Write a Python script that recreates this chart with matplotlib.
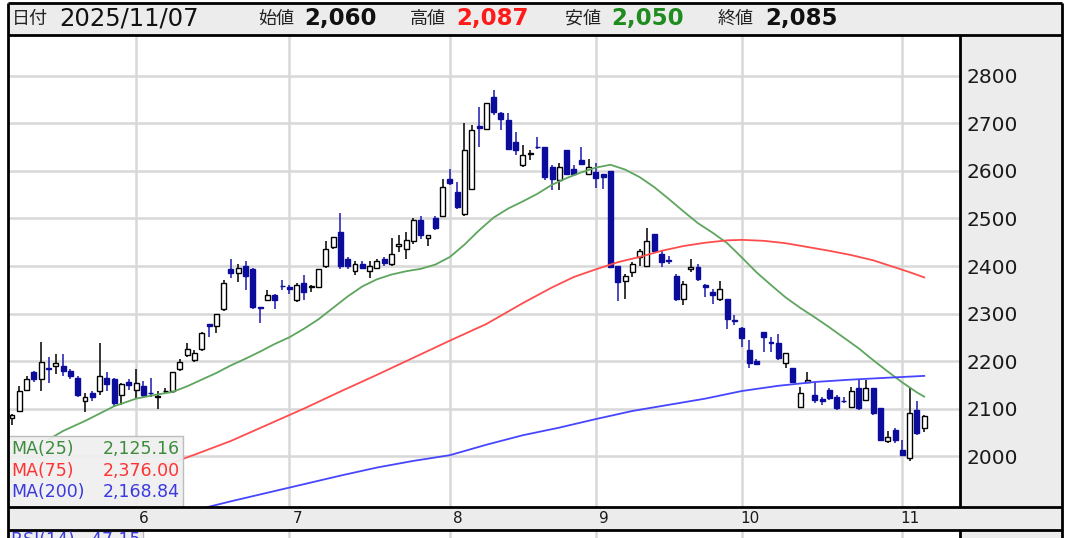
import numpy as np
import pandas as pd
import matplotlib
matplotlib.use("Agg")
import matplotlib.pyplot as plt
from matplotlib.patches import Rectangle
from matplotlib.transforms import ScaledTranslation

W, H, DPI = 1065, 538, 100

# trading days shown (TSE holidays removed)
holidays = ["2025-07-21", "2025-08-11", "2025-09-15", "2025-09-23", "2025-10-13", "2025-11-03"]
days = pd.bdate_range("2025-05-08", "2025-11-07")
days = days[~days.isin(pd.to_datetime(holidays))]

# daily OHLC
opens = [2080, 2096, 2140, 2178, 2162, 2185, 2190, 2190, 2180, 2165,
         2115, 2133, 2136, 2165, 2162, 2129, 2155, 2140, 2147, 2133,
         2125, 2136, 2136, 2183, 2212, 2203, 2226, 2278, 2273, 2309,
         2393, 2386, 2400, 2393, 2313, 2328, 2340, 2358, 2355, 2328,
         2364, 2355, 2355, 2400, 2440, 2472, 2414, 2389, 2404, 2389,
         2396, 2414, 2404, 2443, 2436, 2452, 2497, 2458, 2500, 2506,
         2584, 2556, 2510, 2563, 2695, 2689, 2756, 2721, 2707, 2661,
         2612, 2636, 2651, 2651, 2608, 2580, 2644, 2605, 2622, 2594,
         2597, 2594, 2600, 2401, 2369, 2387, 2418, 2401, 2467, 2425,
         2413, 2380, 2331, 2394, 2397, 2361, 2345, 2331, 2331, 2286,
         2269, 2223, 2201, 2262, 2240, 2237, 2195, 2185, 2104, 2155,
         2129, 2121, 2139, 2125, 2116, 2104, 2143, 2118, 2143, 2101,
         2031, 2055, 2013, 1996, 2097, 2060]
highs = [2088, 2147, 2169, 2180, 2241, 2209, 2215, 2215, 2183, 2169,
         2132, 2136, 2238, 2176, 2165, 2154, 2162, 2183, 2158, 2165,
         2136, 2143, 2178, 2205, 2238, 2223, 2261, 2279, 2300, 2371,
         2415, 2404, 2411, 2396, 2313, 2349, 2341, 2371, 2360, 2364,
         2382, 2360, 2393, 2452, 2462, 2512, 2418, 2411, 2411, 2411,
         2414, 2418, 2458, 2465, 2472, 2501, 2506, 2466, 2505, 2584,
         2605, 2577, 2700, 2697, 2735, 2742, 2770, 2725, 2721, 2682,
         2654, 2644, 2672, 2651, 2612, 2616, 2644, 2612, 2651, 2626,
         2617, 2594, 2600, 2401, 2383, 2408, 2436, 2481, 2467, 2432,
         2422, 2383, 2369, 2415, 2404, 2362, 2352, 2369, 2331, 2296,
         2271, 2244, 2205, 2262, 2250, 2258, 2216, 2185, 2146, 2178,
         2157, 2125, 2143, 2128, 2125, 2146, 2160, 2160, 2143, 2101,
         2052, 2059, 2034, 2146, 2115, 2087]
lows = [2065, 2092, 2136, 2155, 2136, 2154, 2172, 2169, 2162, 2125,
        2093, 2115, 2129, 2136, 2104, 2107, 2140, 2122, 2125, 2125,
        2100, 2133, 2133, 2180, 2209, 2198, 2222, 2250, 2259, 2306,
        2375, 2367, 2350, 2309, 2280, 2328, 2309, 2349, 2342, 2324,
        2328, 2345, 2353, 2396, 2436, 2393, 2393, 2382, 2393, 2375,
        2393, 2400, 2400, 2429, 2415, 2447, 2457, 2443, 2476, 2503,
        2570, 2520, 2506, 2563, 2651, 2686, 2718, 2686, 2644, 2633,
        2609, 2622, 2647, 2580, 2559, 2559, 2591, 2591, 2612, 2591,
        2565, 2563, 2395, 2327, 2331, 2376, 2401, 2401, 2429, 2397,
        2404, 2327, 2317, 2387, 2369, 2334, 2320, 2327, 2268, 2275,
        2230, 2185, 2191, 2220, 2219, 2202, 2185, 2153, 2103, 2153,
        2111, 2108, 2118, 2097, 2111, 2101, 2097, 2115, 2087, 2031,
        2027, 2027, 2003, 1990, 2045, 2050]
closes = [2086, 2136, 2162, 2162, 2198, 2183, 2197, 2180, 2169, 2129,
          2125, 2125, 2169, 2151, 2111, 2151, 2150, 2154, 2129, 2132,
          2127, 2138, 2176, 2198, 2225, 2218, 2259, 2274, 2298, 2364,
          2386, 2396, 2378, 2313, 2311, 2338, 2328, 2357, 2352, 2360,
          2346, 2357, 2393, 2436, 2462, 2400, 2400, 2404, 2396, 2400,
          2411, 2407, 2425, 2447, 2454, 2497, 2465, 2465, 2480, 2566,
          2575, 2524, 2644, 2686, 2690, 2742, 2725, 2709, 2647, 2644,
          2633, 2637, 2650, 2587, 2584, 2608, 2594, 2594, 2615, 2608,
          2586, 2587, 2397, 2366, 2380, 2404, 2432, 2453, 2432, 2408,
          2410, 2331, 2362, 2397, 2373, 2355, 2338, 2352, 2289, 2285,
          2248, 2195, 2194, 2251, 2239, 2206, 2216, 2157, 2133, 2160,
          2118, 2115, 2122, 2101, 2115, 2136, 2101, 2143, 2090, 2034,
          2041, 2034, 2003, 2090, 2048, 2085]

# moving averages (trading-day number -> value)
ma25_days = [5, 7, 10, 14, 17, 20, 22, 24, 26, 28, 30, 32, 34, 36, 38, 40, 42, 44,
             46, 48, 50, 52, 54, 56, 58, 60, 62, 64, 66, 68, 70, 72, 74, 76, 78, 80,
             82, 84, 86, 88, 90, 92, 94, 96, 98, 100, 102, 104, 106, 108, 110, 112,
             114, 116, 118, 120, 122, 124, 125]
ma25 = [2035, 2053, 2074, 2105, 2121, 2130, 2135, 2147, 2161, 2175, 2191, 2205,
        2220, 2236, 2250, 2268, 2288, 2312, 2336, 2357, 2372, 2382, 2389, 2394,
        2403, 2419, 2445, 2475, 2502, 2521, 2536, 2552, 2571, 2585, 2597, 2607,
        2613, 2603, 2587, 2566, 2541, 2515, 2490, 2470, 2448, 2418, 2387, 2360,
        2334, 2312, 2292, 2271, 2249, 2227, 2202, 2178, 2155, 2134, 2125.16]
ma75_days = [20, 25, 30, 35, 40, 45, 50, 55, 60, 65, 70, 74, 77, 80, 83, 86, 89,
             92, 95, 98, 100, 103, 106, 109, 112, 115, 118, 121, 123, 125]
ma75 = [1975, 2003, 2032, 2066, 2100, 2136, 2171, 2207, 2243, 2278, 2322, 2355,
        2377, 2393, 2408, 2419, 2432, 2442, 2449, 2454, 2455, 2453, 2448, 2440,
        2432, 2423, 2412, 2397, 2387, 2376.00]
ma200_days = [25, 30, 35, 40, 45, 50, 55, 60, 65, 70, 75, 80, 85, 90, 95, 100,
              105, 110, 115, 120, 125]
ma200 = [1886, 1905, 1923, 1941, 1959, 1976, 1990, 2002, 2024, 2044, 2060, 2078,
         2095, 2108, 2121, 2137, 2148, 2156, 2161, 2165, 2168.84]

legend_names = ["MA(25)", "MA(75)", "MA(200)"]
legend_values = ["2,125.16", "2,376.00", "2,168.84"]
price_ticks = list(range(2000, 2900, 100))

plt.rcParams["font.family"] = ["DejaVu Sans", "Noto Sans CJK JP"]

fig = plt.figure(figsize=(W / DPI, H / DPI), dpi=DPI)


def frac(x0, y0, x1, y1):
    return [x0 / W, 1 - y1 / H, (x1 - x0) / W, (y1 - y0) / H]


# background panels in pixel coords
bg = fig.add_axes([0, 0, 1, 1], zorder=0)
bg.set_xlim(0, W)
bg.set_ylim(H, 0)
bg.axis("off")
for (x0, y0, x1, y1) in [(8, 3, 1062, 35), (960, 35, 1062, 507), (8, 507, 1062, 530), (960, 530, 1062, 538)]:
    bg.add_patch(Rectangle((x0, y0), x1 - x0, y1 - y0, fc="#ececec", ec="none"))

# main price chart
ax = fig.add_axes(frac(8, 35, 960, 507), zorder=1)
ax.set_facecolor("white")
for s in ax.spines.values():
    s.set_visible(False)

x = np.arange(len(days))
o = np.array(opens, float)
hi = np.array(highs, float)
lo = np.array(lows, float)
c = np.array(closes, float)
up = c >= o
bot = np.minimum(o, c)
hgt = np.maximum(np.abs(c - o), 1.0)

ax.vlines(x[up], lo[up], hi[up], color="black", lw=1.1, zorder=2)
ax.vlines(x[~up], lo[~up], hi[~up], color="#1a1ab0", lw=1.1, zorder=2)
ax.bar(x[up], hgt[up], bottom=bot[up], width=0.68, facecolor="white", edgecolor="black", lw=1, zorder=3)
ax.bar(x[~up], hgt[~up], bottom=bot[~up], width=0.68, facecolor="#0b0b9c", edgecolor="#0b0b9c", lw=1, zorder=3)

ax.plot(ma25_days, ma25, color="#5ea55e", lw=1.3, zorder=4)
ax.plot(ma75_days, ma75, color="#ff4d4d", lw=1.3, zorder=4)
ax.plot(ma200_days, ma200, color="#4646ff", lw=1.3, zorder=4)

month_starts = [i for i in range(1, len(days)) if days[i].month != days[i - 1].month]
ax.set_xticks(month_starts)
ax.set_xticklabels([str(days[i].month) for i in month_starts])
ax.set_yticks(price_ticks)
ax.set_xlim(-0.55, 129.9)
ax.set_ylim(1893, 2886)
ax.set_axisbelow(True)
ax.grid(True, color="#d8d8d8", lw=1.8)
ax.yaxis.tick_right()
ax.tick_params(axis="y", length=0, pad=5, labelsize=14.5, labelcolor="#1a1a1a")
ax.tick_params(axis="x", length=0, pad=3, labelsize=11, labelcolor="#1a1a1a")
for lab in ax.get_xticklabels():
    lab.set_transform(lab.get_transform() + ScaledTranslation(8 / DPI, 0, fig.dpi_scale_trans))

# strip of the RSI panel below
rsi = fig.add_axes(frac(8, 530, 960, 538), zorder=1, sharex=ax)
rsi.set_facecolor("white")
rsi.grid(True, axis="x", color="#d8d8d8", lw=1.8)
rsi.tick_params(length=0, labelbottom=False, labelleft=False)
rsi.set_yticks([])
for s in rsi.spines.values():
    s.set_visible(False)

# overlay: frames, header, legend
ov = fig.add_axes([0, 0, 1, 1], zorder=5)
ov.set_xlim(0, W)
ov.set_ylim(H, 0)
ov.axis("off")
ov.patch.set_alpha(0)

for (xs, ys) in [([8, 1062], [3, 3]), ([8, 1062], [35, 35]), ([8, 1062], [507, 507]), ([8, 1062], [530, 530]),
                 ([8, 8], [3, 538]), ([1062, 1062], [3, 538]), ([960, 960], [35, 507]), ([960, 960], [530, 538])]:
    ov.plot(xs, ys, color="black", lw=2, solid_capstyle="butt")

hdr = [(12, "日付", 13, "normal", "#222222"), (59, "2025/11/07", 17.5, "normal", "#111111"),
       (258, "始値", 13, "normal", "#222222"), (304, "2,060", 16.5, "bold", "#111111"),
       (410, "高値", 13, "normal", "#222222"), (456, "2,087", 16.5, "bold", "#ff1a1a"),
       (565, "安値", 13, "normal", "#222222"), (611, "2,050", 16.5, "bold", "#1e8c1e"),
       (718, "終値", 13, "normal", "#222222"), (765, "2,085", 16.5, "bold", "#111111")]
for (hx, s, size, weight, col) in hdr:
    ov.text(hx, 19, s, fontsize=size, fontweight=weight, color=col, va="center", ha="left")

ov.add_patch(Rectangle((8, 436), 175, 71, fc="#efefef", ec="#b8b8b8", lw=1, alpha=0.92))
leg_colors = ["#3d8c3d", "#ff3333", "#3a3ae0"]
for k, (name, val, col) in enumerate(zip(legend_names, legend_values, leg_colors)):
    ov.text(11, 449 + 21.5 * k, name, fontsize=12.5, color=col, va="center", ha="left")
    ov.text(180, 449 + 21.5 * k, val, fontsize=12.5, color=col, va="center", ha="right")

# RSI legend, cut off by the bottom edge as in the source screenshot
ov.add_patch(Rectangle((8, 531), 135, 10, fc="#efefef", ec="#b8b8b8", lw=1))
ov.text(11, 540, "RSI(14)   47.15", fontsize=12.5, color="#3a3ae0", va="center", ha="left")

fig.savefig("out.png", dpi=DPI)
